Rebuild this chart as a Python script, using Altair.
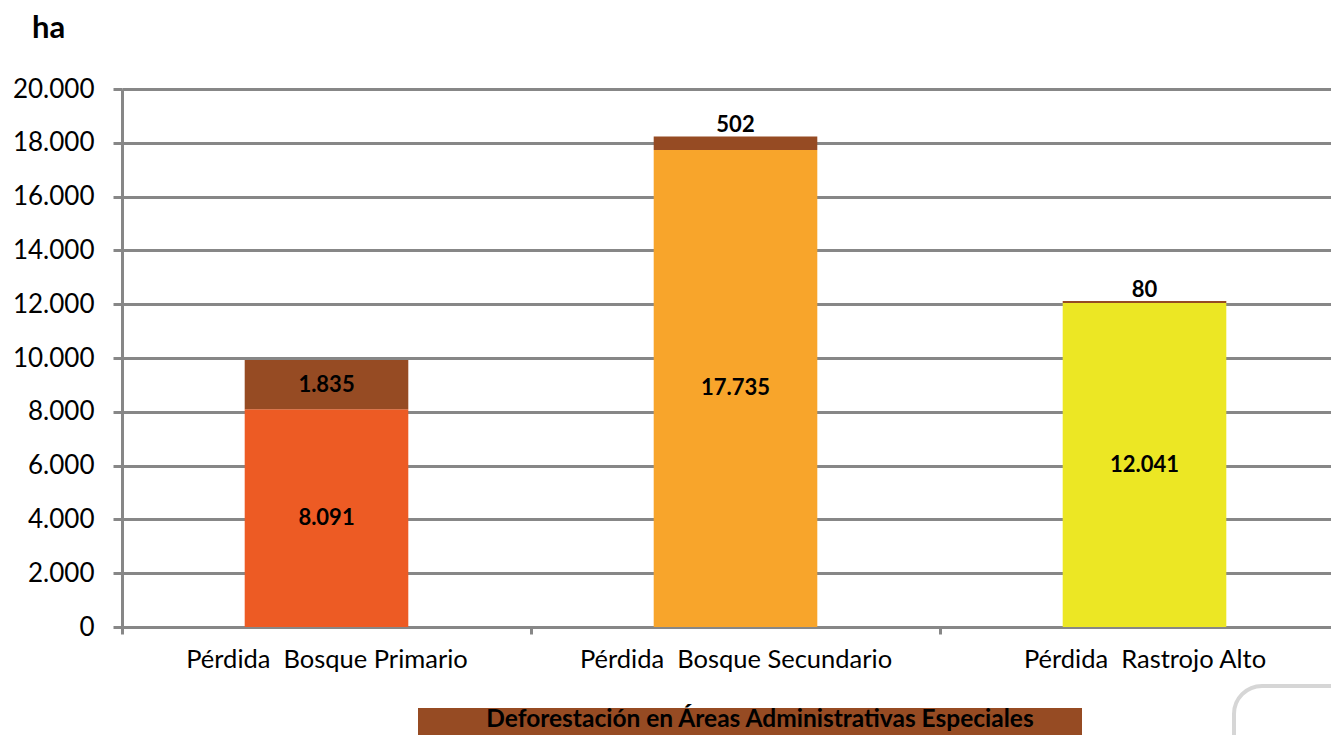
import altair as alt
import pandas as pd

# ---- data ----
categories = ["Pérdida\u00a0 Bosque Primario", "Pérdida\u00a0 Bosque Secundario", "Pérdida\u00a0 Rastrojo Alto"]
base_values = [8091, 17735, 12041]
top_values = [1835, 502, 80]
base_colors = ["#ED5B24", "#F8A52B", "#ECE724"]
top_color = "#964B23"
y_ticks = [0, 2000, 4000, 6000, 8000, 10000, 12000, 14000, 16000, 18000, 20000]
unit_label = "ha"
legend_label = "Deforestación en Áreas Administrativas Especiales"

rows = []
for c, b, t in zip(categories, base_values, top_values):
    rows.append({"cat": c, "key": c, "start": 0, "end": b, "value": b, "inside": True})
    rows.append({"cat": c, "key": "top", "start": b, "end": b + t, "value": t, "inside": t >= 1000})
df = pd.DataFrame(rows)

FONT = "Lato"
GREY = "#878787"
W, H = 1209, 538

x_scale = alt.Scale(paddingInner=0, paddingOuter=0, range=[0, 1227])
x_enc = alt.X(
    "cat:N",
    sort=categories,
    scale=x_scale,
    axis=alt.Axis(
        title=None, labelAngle=0, tickBand="extent", grid=False, labelLimit=0,
        domainColor=GREY, domainWidth=3, tickColor=GREY, tickWidth=3, tickSize=7,
        labelFontSize=25.5, labelFont=FONT, labelColor="#000000", labelPadding=13,
    ),
)
y_scale = alt.Scale(domain=[0, 20000], nice=False)

base = alt.Chart(df).transform_calculate(
    label="replace(format(datum.value, ','), ',', '.')",
    mid="(datum.start + datum.end) / 2",
)

bars = base.mark_bar(width=alt.RelativeBandSize(0.4)).encode(
    x=x_enc,
    y=alt.Y(
        "start:Q", scale=y_scale,
        axis=alt.Axis(
            title=None, values=y_ticks,
            labelExpr="replace(format(datum.value, ','), ',', '.')",
            grid=True, gridColor=GREY, gridWidth=3,
            domainColor=GREY, domainWidth=3, tickColor=GREY, tickWidth=3, tickSize=9,
            labelFontSize=26, labelFont=FONT, labelColor="#000000", labelPadding=19,
        ),
    ),
    y2="end:Q",
    color=alt.Color("key:N", scale=alt.Scale(domain=categories + ["top"], range=base_colors + [top_color]), legend=None),
)

inside_text = base.transform_filter("datum.inside").mark_text(
    font=FONT, fontSize=22, fontWeight="bold", color="#000000", baseline="middle"
).encode(
    x=alt.X("cat:N", sort=categories, scale=x_scale),
    y=alt.Y("mid:Q", scale=y_scale),
    text="label:N",
)

above_text = base.transform_filter("!datum.inside").mark_text(
    font=FONT, fontSize=22, fontWeight="bold", color="#000000", baseline="alphabetic", dy=-4
).encode(
    x=alt.X("cat:N", sort=categories, scale=x_scale),
    y=alt.Y("end:Q", scale=y_scale),
    text="label:N",
)

unit = alt.Chart(alt.Data(values=[{"t": unit_label}])).mark_text(
    font=FONT, fontSize=31, fontWeight="bold", color="#000000", align="left", baseline="middle"
).encode(x=alt.value(-90), y=alt.value(-60), text="t:N")

legend_box = alt.Chart(alt.Data(values=[{"t": legend_label}])).mark_rect(color=top_color).encode(
    x=alt.value(296), x2=alt.value(960), y=alt.value(619), y2=alt.value(660)
)
legend_text = alt.Chart(alt.Data(values=[{"t": legend_label}])).mark_text(
    font=FONT, fontSize=24.5, fontWeight="bold", color="#000000", baseline="middle"
).encode(x=alt.value(638), y=alt.value(631), text="t:N")

deco = alt.Chart(alt.Data(values=[{"t": 1}])).mark_rect(
    fill="#ffffff", stroke="#d6d6d6", strokeWidth=4, cornerRadius=28
).encode(x=alt.value(1112), x2=alt.value(1280), y=alt.value(597), y2=alt.value(720))

chart = alt.layer(bars, inside_text, above_text, unit, legend_box, legend_text, deco).properties(
    width=W, height=H,
    autosize=alt.AutoSizeParams(type="none"),
    padding={"left": 114, "top": 81, "right": 0, "bottom": 108},
    background="#ffffff",
).configure_view(stroke=None)

chart.save("out.html", embed_options={"renderer": "svg", "actions": False})
